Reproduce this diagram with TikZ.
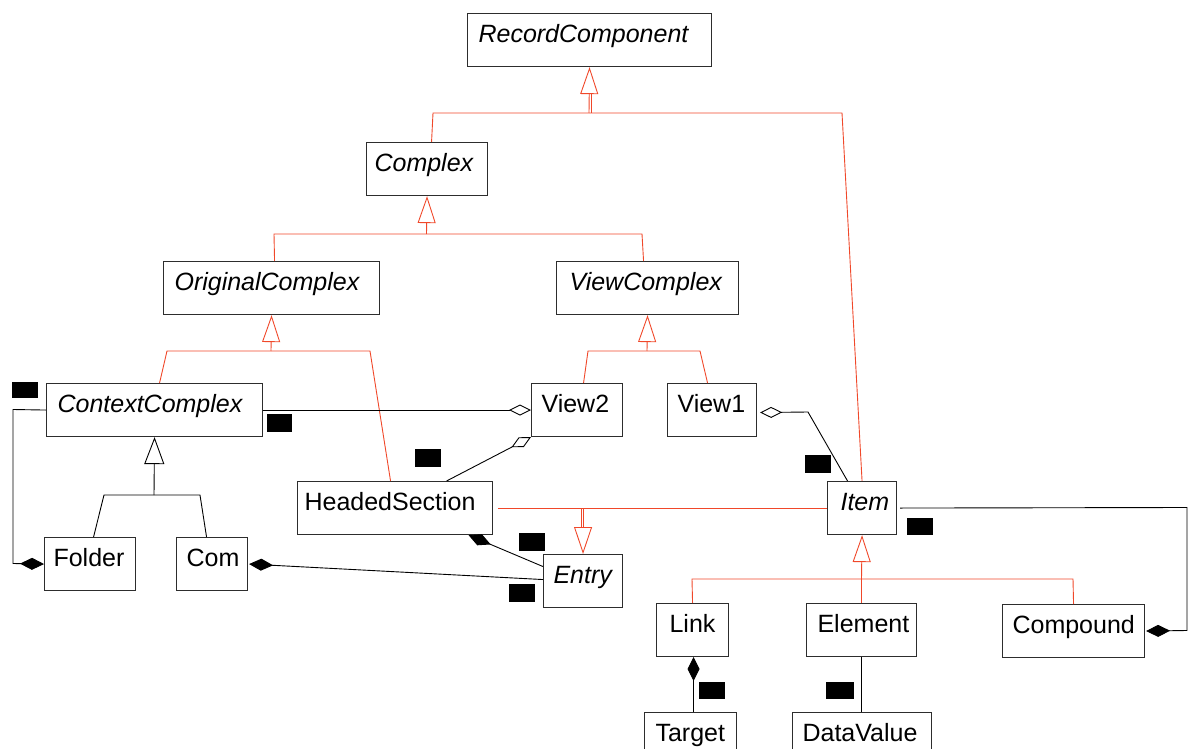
\documentclass[tikz,border=0pt]{standalone}
\usepackage{fontspec}
\setmainfont{Liberation Sans}
\usetikzlibrary{arrows.meta}
\definecolor{genred}{RGB}{240,72,42}
\definecolor{boxline}{RGB}{45,45,45}
\tikzset{
  cls/.style={draw=boxline, line width=1.1pt, fill=white, anchor=north west, inner ysep=0pt,
    text height=29pt, text depth=24pt, font=\fontsize{25}{30}\selectfont},
  gen/.style={draw=genred, line width=0.9pt},
  genhead/.style={gen, -{Triangle[open, length=27pt, width=18pt]}},
  genb/.style={draw=black, line width=0.9pt},
  genbhead/.style={genb, -{Triangle[open, length=27pt, width=20pt]}},
  assoc/.style={draw=black, line width=0.9pt},
  aggo/.style={assoc, {Diamond[open, length=22pt, width=11pt]}-},
  aggf/.style={assoc, {Diamond[length=24pt, width=12pt]}-},
  mult/.style={fill=black, inner sep=0pt, minimum width=26pt, minimum height=18pt}
}
\newcommand\mkcls[7]{\node[cls, inner xsep=#6pt] (#1) at (#2,#3) {\makebox[\dimexpr #4pt-#6pt-#6pt\relax][l]{#7}};}
\begin{document}
\begin{tikzpicture}[x=1pt, y=-1pt]
\useasboundingbox (0,0) rectangle (1194,749);
\clip (0,0) rectangle (1194,749);
% classes
\mkcls{rc}{467}{13}{244}{53}{11}{\itshape RecordComponent}
\mkcls{cx}{366}{142}{121}{53}{8}{\itshape Complex}
\mkcls{oc}{163}{261}{216}{53}{11}{\itshape OriginalComplex}
\mkcls{vc}{556}{261}{182}{53}{13}{\itshape ViewComplex}
\mkcls{cc}{46}{383}{216}{53}{11}{\itshape ContextComplex}
\mkcls{v2}{531}{383}{91}{53}{10}{View2}
\mkcls{v1}{667}{383}{89}{53}{10}{View1}
\mkcls{hs}{297}{481}{195}{53}{7}{HeadedSection}
\mkcls{it}{827}{481}{69}{53}{13}{\itshape Item}
\mkcls{fo}{44}{537}{91}{53}{9}{Folder}
\mkcls{co}{176}{537}{71}{53}{10}{Com}
\mkcls{en}{543}{554}{79}{53}{10}{\itshape Entry}
\mkcls{lk}{656}{603}{72}{53}{13}{Link}
\mkcls{el}{806}{603}{110}{53}{11}{Element}
\mkcls{cp}{1002}{604}{142}{53}{10}{Compound}
\mkcls{tg}{644}{712}{92}{53}{11}{Target}
\mkcls{dv}{792}{712}{139}{53}{10}{DataValue}
% generalisations (red)
\coordinate (j1) at (589,113);
\draw[gen] ([xshift=4.5pt]cx.north) -- (433,113) -- (842,113) -- (it.north);
\draw[genhead] (j1) -- (rc.south);
\draw[gen] (591,113) -- (591,93);
\coordinate (j2) at (426.5,234);
\draw[gen] ([xshift=3pt]oc.north) -- (274,234) -- (642,234) -- ([xshift=-4pt]vc.north);
\draw[genhead] (j2) -- (cx.south);
\coordinate (j3) at (271,351);
\draw[gen] ([xshift=5pt]cc.north) -- (167,351) -- (370,351) -- ([xshift=-4.5pt]hs.north);
\draw[genhead] (j3) -- (oc.south);
\coordinate (j4) at (647,351);
\draw[gen] ([xshift=6.5pt]v2.north) -- (588,351) -- (700,351) -- ([xshift=-4.5pt]v1.north);
\draw[genhead] (j4) -- (vc.south);
\draw[gen] ([xshift=5pt]hs.east) -- (it.west);
\draw[genhead] (en.north |- hs.east) -- (en.north);
\draw[gen] ([xshift=-2pt]en.north |- hs.east) -- ([xshift=-2pt,yshift=26pt]en.north);
\coordinate (j6) at (861.5,579);
\draw[gen] (lk.north) -- (692,579) -- (1073,579) -- (cp.north);
\draw[gen] (el.north) -- (el.north |- j6);
\draw[genhead] (j6) -- (it.south);
% generalisation (black)
\coordinate (j5) at (154,495);
\draw[genb] ([xshift=3.5pt]fo.north) -- (104,495) -- (200,495) -- ([xshift=-5.5pt]co.north);
\draw[genbhead] (j5) -- (cc.south);
% associations
\draw[aggo] (v2.west) -- (cc.east);
\draw[aggo] (v2.south west) -- ([xshift=51.5pt]hs.north);
\draw[aggo] ([yshift=-2.5pt,xshift=3pt]v1.east) -- (808,412) -- ([xshift=-14.5pt]it.north);
\draw[aggf] (fo.west) -- (13,563.5) -- (13,409.5) -- (cc.west);
\draw[aggf] ([xshift=1pt]co.east) -- ([yshift=1.5pt]en.west);
\draw[aggf] ([xshift=73.5pt]hs.south) -- ([yshift=14.5pt]en.west);
\draw[aggf] ([xshift=1pt]cp.east) -- (1187,630.5) -- (1187,507.5) -- ([xshift=3pt]it.east);
\draw[aggf] ([xshift=1pt]lk.south) -- ([xshift=1pt]lk.south |- tg.north);
\draw[assoc] (el.south) -- (el.south |- dv.north);
% multiplicity labels (blacked out)
\node[mult, minimum height=16pt] (m1) at (25,390) {};
\node[mult, minimum width=25pt] (m2) at (279.5,423) {};
\node[mult] (m3) at (428,458) {};
\node[mult] (m4) at (532,542) {};
\node[mult] (m5) at (522,593) {};
\node[mult] (m6) at (818,464) {};
\node[mult, minimum height=17pt] (m7) at (920,526.5) {};
\node[mult, minimum height=17pt] (m8) at (712,690.5) {};
\node[mult, minimum width=28pt, minimum height=17pt] (m9) at (840,690.5) {};
\end{tikzpicture}
\end{document}
